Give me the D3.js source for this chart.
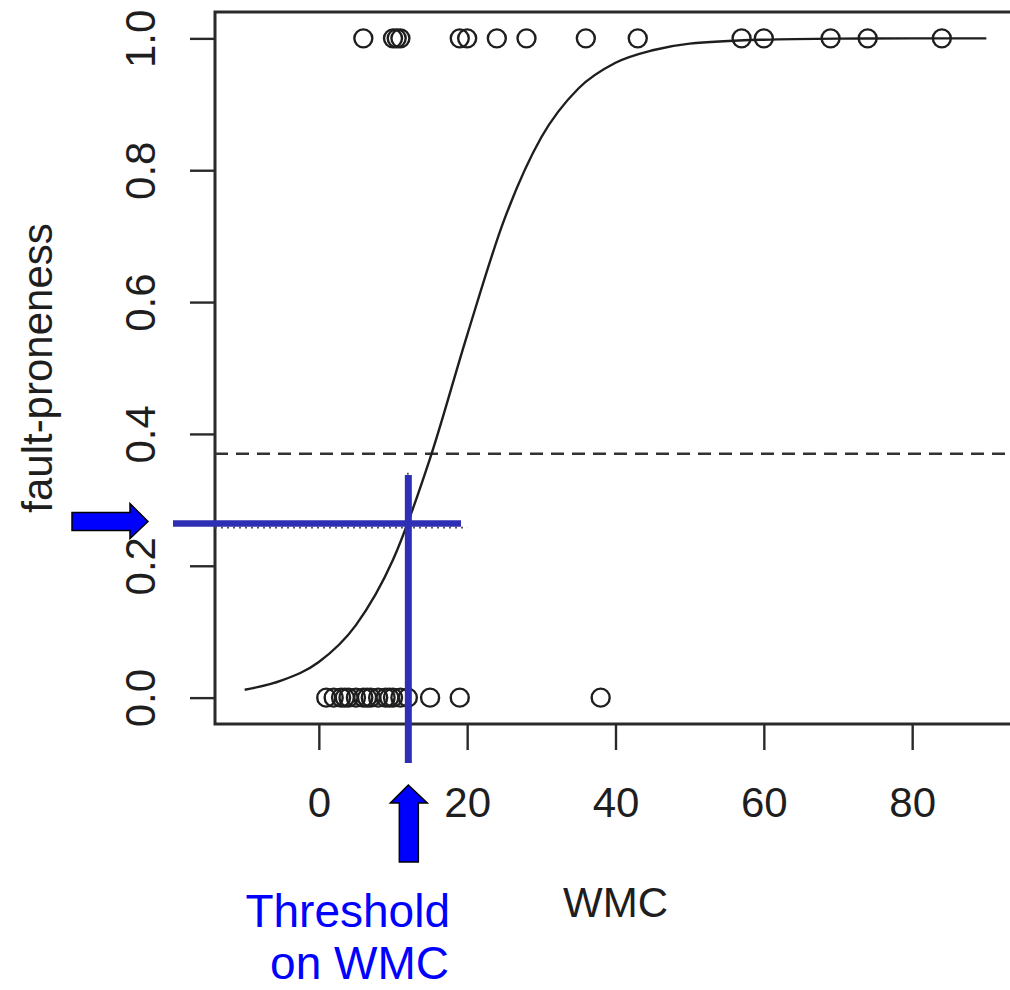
<!doctype html>
<html>
<head>
  <meta charset="UTF-8">
  <title>fault-proneness vs WMC</title>
  <script src="https://cdn.jsdelivr.net/npm/d3@7"></script>
  <style type="text/css">
    body { margin: 0; background: #fff; }
    svg { display: block; font-family: "Liberation Sans", Arial, Helvetica, sans-serif; }
  </style>
</head>
<body>
  <div id="chart"></div>
  <script>
    // observed classes: faulty (1) and not faulty (0)
    var faultyWMC = [6, 10, 10.5, 11, 19, 20, 24, 28, 36, 43, 57, 60, 69, 74, 84];
    var cleanWMC = [1, 2, 3, 3.5, 4, 5, 6, 6.5, 7, 8, 9, 9.5, 10, 11, 12, 15, 19, 38];

    // fitted logistic curve
    var curveWMC = [-10, -5, 0, 5, 10, 15, 20, 25, 30, 35, 40, 45, 50, 60, 70, 80, 90];
    var curveP = [0.012, 0.026, 0.054, 0.110, 0.209, 0.363, 0.550, 0.725, 0.850, 0.924, 0.963, 0.982, 0.992, 0.998, 0.9996, 1.0, 1.0];

    var xTicks = [0, 20, 40, 60, 80];
    var yTicks = [0, 0.2, 0.4, 0.6, 0.8, 1.0];

    var cutoffP = 0.37;       // dashed line
    var thresholdWMC = 12;    // dotted / blue lines
    var thresholdP = 0.258;
    var dottedEnd = 20;

    var w = 1010, h = 990,
      ink = "#1e1e1e",
      blueLine = "#2f2fb5",
      blue = "#0000ff";

    var x = d3.scaleLinear().domain([-14, 94]).range([215, 1016]),
      y = d3.scaleLinear().domain([-0.04, 1.04]).range([724, 12]);

    var svg = d3.select("#chart").append("svg")
      .attr("width", w)
      .attr("height", h);

    // box
    svg.append("rect")
      .attr("x", x(-14)).attr("y", y(1.04))
      .attr("width", x(94) - x(-14)).attr("height", y(-0.04) - y(1.04))
      .attr("fill", "none").attr("stroke", "#2a2a2a").attr("stroke-width", 3);

    // axes
    var gx = svg.append("g")
      .attr("transform", "translate(0," + y(-0.04) + ")")
      .call(d3.axisBottom(x).tickValues(xTicks).tickSize(26).tickSizeOuter(0).tickFormat(d3.format("d")));
    gx.select(".domain").remove();
    gx.selectAll("line").attr("stroke", "#2a2a2a").attr("stroke-width", 2.4);
    gx.selectAll("text")
      .attr("y", 93).attr("dy", null)
      .attr("fill", ink).style("font-size", "42px");

    var gy = svg.append("g")
      .attr("transform", "translate(" + x(-14) + ",0)")
      .call(d3.axisLeft(y).tickValues(yTicks).tickSize(25).tickSizeOuter(0).tickFormat(d3.format(".1f")));
    gy.select(".domain").remove();
    gy.selectAll("line").attr("stroke", "#2a2a2a").attr("stroke-width", 2.4);
    gy.selectAll("text")
      .attr("x", null).attr("dy", null)
      .attr("transform", "translate(-60,0) rotate(-90)")
      .attr("text-anchor", "middle")
      .attr("fill", ink).style("font-size", "42px");

    svg.append("text")
      .attr("x", x(40)).attr("y", 917)
      .attr("text-anchor", "middle")
      .attr("fill", ink).style("font-size", "42px")
      .text("WMC");

    svg.append("text")
      .attr("transform", "translate(52," + ((y(-0.04) + y(1.04)) / 2) + ") rotate(-90)")
      .attr("text-anchor", "middle")
      .attr("fill", ink).style("font-size", "42px")
      .text("fault-proneness");

    // reference lines
    svg.append("line")
      .attr("x1", x(-14)).attr("x2", x(94))
      .attr("y1", y(cutoffP)).attr("y2", y(cutoffP))
      .attr("stroke", "#333").attr("stroke-width", 2.4).attr("stroke-dasharray", "13,8");

    svg.append("line")
      .attr("x1", x(-14)).attr("x2", x(dottedEnd))
      .attr("y1", y(thresholdP)).attr("y2", y(thresholdP))
      .attr("stroke", "#555").attr("stroke-width", 1.8).attr("stroke-dasharray", "2,4");
    svg.append("line")
      .attr("x1", x(thresholdWMC)).attr("x2", x(thresholdWMC))
      .attr("y1", y(0.341)).attr("y2", y(-0.04))
      .attr("stroke", "#555").attr("stroke-width", 1.8).attr("stroke-dasharray", "2,4");

    // fitted curve
    var line = d3.line()
      .x(function(d, i) { return x(curveWMC[i]); })
      .y(function(d) { return y(d); })
      .curve(d3.curveMonotoneX);
    svg.append("path")
      .attr("d", line(curveP))
      .attr("fill", "none").attr("stroke", ink).attr("stroke-width", 2.4);

    // points
    svg.selectAll(".p1")
      .data(faultyWMC)
      .enter().append("circle")
      .attr("class", "p1")
      .attr("cx", function(d) { return x(d); })
      .attr("cy", y(1))
      .attr("r", 9)
      .attr("fill", "none").attr("stroke", ink).attr("stroke-width", 2.4);
    svg.selectAll(".p0")
      .data(cleanWMC)
      .enter().append("circle")
      .attr("class", "p0")
      .attr("cx", function(d) { return x(d); })
      .attr("cy", y(0))
      .attr("r", 9)
      .attr("fill", "none").attr("stroke", ink).attr("stroke-width", 2.4);

    // blue annotations
    var bx = x(thresholdWMC) + 0.5, by = y(0.264);
    svg.append("line")
      .attr("x1", 173).attr("x2", 461)
      .attr("y1", by).attr("y2", by)
      .attr("stroke", blueLine).attr("stroke-width", 6.5);
    svg.append("line")
      .attr("x1", bx).attr("x2", bx)
      .attr("y1", 475).attr("y2", 763)
      .attr("stroke", blueLine).attr("stroke-width", 7);

    // arrow pointing right at the fault-proneness level
    var ay = by - 2;
    svg.append("path")
      .attr("d", "M72," + (ay - 9) + "H130V" + (ay - 18) + "L148," + ay + "L130," + (ay + 17) + "V" + (ay + 9) + "H72Z")
      .attr("fill", blue).attr("stroke", "#000").attr("stroke-width", 1.5);

    // arrow pointing up at the threshold
    svg.append("path")
      .attr("d", "M" + (bx - 9) + ",862V803H" + (bx - 18) + "L" + bx + ",785L" + (bx + 19) + ",803H" + (bx + 10) + "V862Z")
      .attr("fill", blue).attr("stroke", "#000").attr("stroke-width", 1.5);

    svg.append("text")
      .attr("x", 450).attr("y", 927)
      .attr("text-anchor", "end")
      .attr("fill", blue).style("font-size", "46px")
      .text("Threshold");
    svg.append("text")
      .attr("x", 449).attr("y", 979)
      .attr("text-anchor", "end")
      .attr("fill", blue).style("font-size", "46px")
      .text("on WMC");
  </script>
</body>
</html>
